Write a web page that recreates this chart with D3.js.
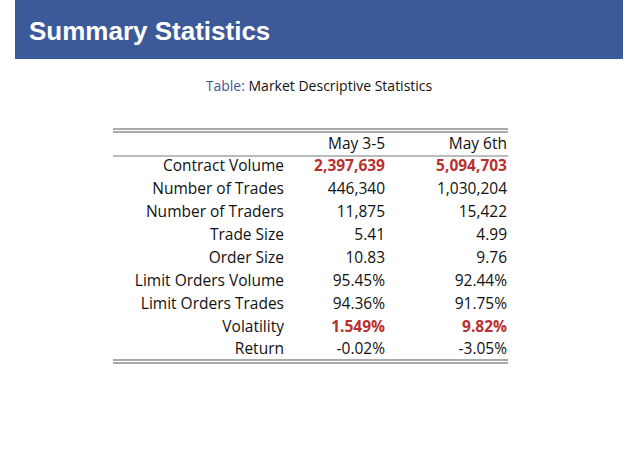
<!DOCTYPE html>
<html><head><meta charset="utf-8">
<script src="https://cdn.jsdelivr.net/npm/d3@7"></script>
<style>body{margin:0;background:#fff}</style>
</head><body>
<svg id="chart" width="638" height="451"></svg>
<script>
// --- DATA ---
const rowLabels = ['Contract Volume', 'Number of Trades', 'Number of Traders', 'Trade Size', 'Order Size',
  'Limit Orders Volume', 'Limit Orders Trades', 'Volatility', 'Return'];
const columns = ['May 3-5', 'May 6th'];
const may35 = ['2,397,639', '446,340', '11,875', '5.41', '10.83', '95.45%', '94.36%', '1.549%', '-0.02%'];
const may6 = ['5,094,703', '1,030,204', '15,422', '4.99', '9.76', '92.44%', '91.75%', '9.82%', '-3.05%'];
const highlighted = ['Contract Volume', 'Volatility'];

const svg = d3.select('#chart');
const font = '"Open Sans", "DejaVu Sans", sans-serif';

// header bar
svg.append('rect').attr('x', 15).attr('y', 0).attr('width', 608).attr('height', 59).attr('fill', '#3c5a99');
svg.append('text').attr('x', 29).attr('y', 40).text('Summary Statistics')
  .style('font-family', 'Liberation Sans, Arial, sans-serif').style('font-weight', 'bold')
  .style('font-size', '26px').attr('fill', '#fff');

// caption
const cap = svg.append('text').attr('x', 319).attr('y', 91).attr('text-anchor', 'middle')
  .style('font-family', font).style('font-size', '14px');
cap.append('tspan').attr('fill', '#3c5a99').text('Table: ');
cap.append('tspan').attr('fill', '#111').text('Market Descriptive Statistics');

// table geometry
const x0 = 113, x1 = 508;
const labelX = 284, colX = [385, 507];
const y = d3.scalePoint().domain(rowLabels).range([166, 349]);

const rule = (yy, w) => svg.append('line').attr('x1', x0).attr('x2', x1).attr('y1', yy).attr('y2', yy)
  .attr('stroke', '#555').attr('stroke-width', w);
rule(129, 1); rule(132, 1); rule(156, 0.8); rule(360, 1); rule(363, 1);

const txt = (x, yy, s, red) => svg.append('text').attr('x', x).attr('y', yy).attr('dy', '0.35em')
  .attr('text-anchor', 'end').style('font-family', font).style('font-size', '15.5px')
  .style('font-weight', red ? 'bold' : 'normal').attr('fill', red ? '#b8312f' : '#111').text(s);

columns.forEach((c, i) => txt(colX[i], 144, c, false));
rowLabels.forEach((r, i) => {
  const red = highlighted.includes(r);
  txt(labelX, y(r), r, false);
  txt(colX[0], y(r), may35[i], red);
  txt(colX[1], y(r), may6[i], red);
});
</script>
</body></html>
